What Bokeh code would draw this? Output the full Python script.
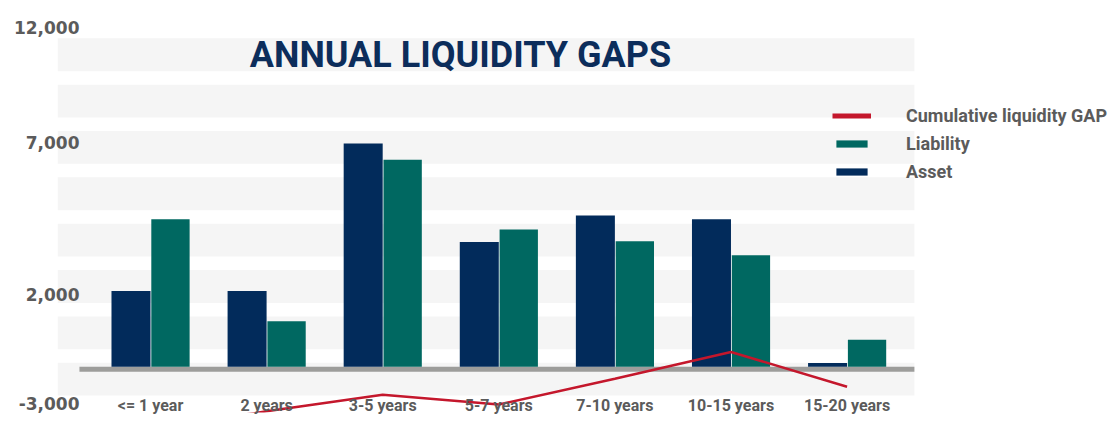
from bokeh.plotting import figure
from bokeh.models import Range1d, FixedTicker, Legend, LegendItem
from bokeh.transform import dodge
from bokeh.core.properties import value
from bokeh.embed import file_html
from bokeh.resources import INLINE

# ---------------- data ----------------
categories = ["<= 1 year", "2 years", "3-5 years", "5-7 years",
              "7-10 years", "10-15 years", "15-20 years"]
asset = [2000, 2000, 5900, 3300, 4000, 3900, 100]
liability = [3900, 1200, 5470, 3630, 3320, 2950, 710]
cumulative_gap = [-1630, -1180, -740, -1000, -320, 390, -530]
y_tick_labels = ["12,000", "7,000", "2,000", "-3,000"]
title_text = "ANNUAL LIQUIDITY GAPS"

# ---------------- layout / style ----------------
NAVY = "#022b5b"
TEAL = "#006861"
RED = "#c4172c"
BASE_GRAY = "#9d9d9b"
BAND = "#f5f5f5"
TEXT_GRAY = "#5b5b5b"

UNIT_PX = 0.038            # pixels per value unit
ZERO_PX = 368              # pixel row of the zero line
FRAME_LEFT = 57
FRAME_BOTTOM = 414
def px_to_val(py):
    return (ZERO_PX - py) / UNIT_PX

x_idx = list(range(len(categories)))
X_START, X_END = -0.801, 8.269
BAND_RIGHT = 6.58
y_tick_pos = [round(px_to_val(py)) for py in (27, 143, 295, 405)]

p = figure(width=1110, height=417,
           x_range=Range1d(X_START, X_END),
           y_range=Range1d(px_to_val(FRAME_BOTTOM), px_to_val(0)),
           output_backend="svg", toolbar_location=None,
           min_border_left=FRAME_LEFT, min_border_right=0,
           min_border_top=0, min_border_bottom=0,
           outline_line_color=None)
p.xgrid.visible = False
p.ygrid.visible = False

# background bands
band_tops = [px_to_val(38 + k * 46.57) for k in range(8)]
band_h = 33 / UNIT_PX
p.hbar(y=[t - band_h / 2 for t in band_tops], height=band_h,
       left=X_START, right=BAND_RIGHT, fill_color=BAND, line_color=None)

# zero base line
base_h = 5 / UNIT_PX
p.hbar(y=[-base_h / 2], height=base_h, left=-0.612, right=BAND_RIGHT,
       fill_color=BASE_GRAY, line_color=None)

src = dict(x=x_idx, asset=asset, liability=liability, gap=cumulative_gap)
asset_r = p.vbar(x=dodge("x", -0.168), top="asset", bottom=0, width=0.336,
                 source=src, fill_color=NAVY, line_color=None)
liab_r = p.vbar(x=dodge("x", 0.172), top="liability", bottom=0, width=0.33,
                source=src, fill_color=TEAL, line_color=None)
p.line(x="x", y="gap", source=src, line_color=RED, line_width=2.5)
# thicker legend swatch for the line (single point: draws nothing in the plot)
legend_line = p.line(x=x_idx[:1], y=cumulative_gap[:1], line_color=RED, line_width=5)

# title
p.text(x=[2.67], y=[px_to_val(55)], text=[title_text],
       text_font=value("Roboto"), text_font_style="bold",
       text_font_size="36px", text_color="#0c2d5b",
       text_align="center", text_baseline="middle")

# axes
p.xaxis.ticker = FixedTicker(ticks=x_idx)
p.xaxis.major_label_overrides = {i: c for i, c in zip(x_idx, categories)}
p.xaxis.axis_line_color = None
p.xaxis.major_tick_line_color = None
p.xaxis.minor_tick_line_color = None
p.xaxis.major_tick_out = 0
p.xaxis.major_tick_in = 0
p.xaxis.minor_tick_out = 0
p.xaxis.major_label_standoff = -17
p.xaxis.major_label_text_font = "Roboto"
p.xaxis.major_label_text_font_style = "bold"
p.xaxis.major_label_text_font_size = "16px"
p.xaxis.major_label_text_color = TEXT_GRAY

p.yaxis.ticker = FixedTicker(ticks=y_tick_pos)
p.yaxis.major_label_overrides = {t: l for t, l in zip(y_tick_pos, y_tick_labels)}
p.yaxis.axis_line_color = None
p.yaxis.major_tick_line_color = None
p.yaxis.minor_tick_line_color = None
p.yaxis.major_tick_out = 0
p.yaxis.major_tick_in = 0
p.yaxis.minor_tick_out = 0
p.yaxis.major_label_standoff = -22
p.yaxis.major_label_text_font = "DejaVu Sans"
p.yaxis.major_label_text_font_style = "bold"
p.yaxis.major_label_text_font_size = "17px"
p.yaxis.major_label_text_color = TEXT_GRAY

legend = Legend(items=[
    LegendItem(label="Cumulative liquidity GAP", renderers=[legend_line]),
    LegendItem(label="Liability", renderers=[liab_r]),
    LegendItem(label="Asset", renderers=[asset_r]),
], location=(765, 220), glyph_width=39, glyph_height=9, label_standoff=35,
   spacing=7, label_height=20, padding=10, margin=0,
   label_text_font="Roboto", label_text_font_style="bold",
   label_text_font_size="18px", label_text_color=TEXT_GRAY,
   background_fill_alpha=0, border_line_alpha=0)
p.add_layout(legend)

open("out.html", "w").write(file_html(p, INLINE))
